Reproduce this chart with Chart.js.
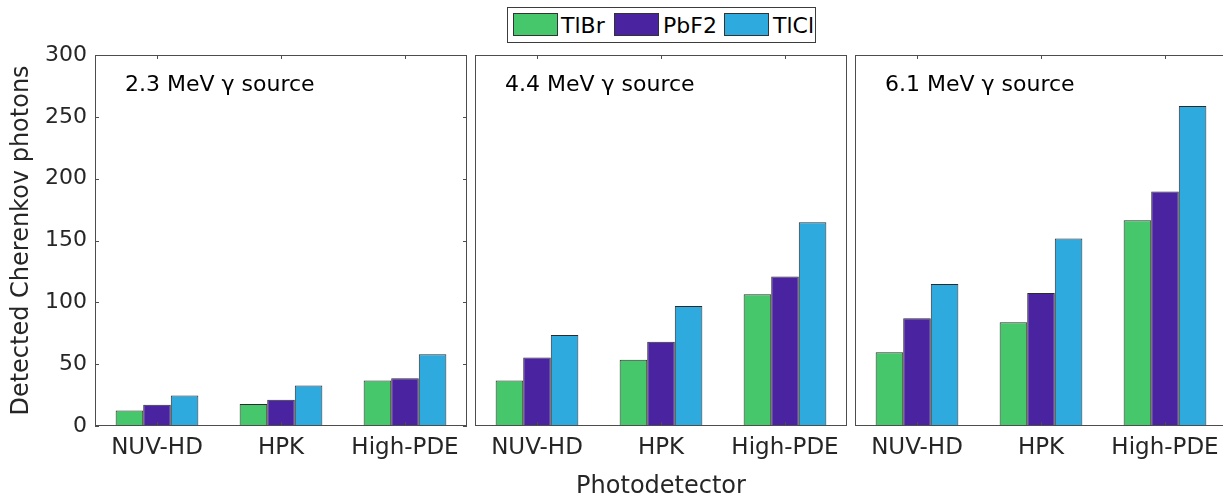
<!DOCTYPE html>
<html>
<head>
<meta charset="utf-8">
<script src="https://cdn.jsdelivr.net/npm/chart.js@4.4.0/dist/chart.umd.min.js"></script>
<style>
  html, body { margin: 0; padding: 0; background: #fff; overflow: hidden; }
  body { width: 1223px; height: 499px; position: relative; font-family: "DejaVu Sans", sans-serif; }
  .panel { position: absolute; top: 0; height: 499px; }
  #legend { position: absolute; left: 507px; top: 7px; width: 307px; height: 34px; border: 1px solid #3c3c3c; background: #fff; }
  .sw { position: absolute; top: 5px; width: 43px; height: 21px; border: 1px solid #333; }
  .lb { position: absolute; top: 0; line-height: 35px; font-size: 22px; color: #000; }
</style>
</head>
<body>
<div class="panel" style="left:0;width:470px"><canvas id="c1"></canvas></div>
<div class="panel" style="left:470px;width:380px"><canvas id="c2"></canvas></div>
<div class="panel" style="left:850px;width:380px"><canvas id="c3"></canvas></div>
<div id="legend">
  <div class="sw" style="left:5px;background:#47c76b"></div><div class="lb" style="left:53px">TlBr</div>
  <div class="sw" style="left:106px;background:#4a23a1"></div><div class="lb" style="left:155px">PbF2</div>
  <div class="sw" style="left:216px;background:#2eaadf"></div><div class="lb" style="left:265px">TlCl</div>
</div>
<script>
// photodetectors on the x axis, one panel per gamma source
const detectors = ['NUV-HD', 'HPK', 'High-PDE'];
const sources = ['2.3 MeV γ source', '4.4 MeV γ source', '6.1 MeV γ source'];
const crystals = ['TlBr', 'PbF2', 'TlCl'];
const yTicks = [0, 50, 100, 150, 200, 250, 300];

// detected Cherenkov photons, [source][detector]
const tlbr = [[12.5, 17.8, 36.8], [36.8, 53.5, 106.5], [59.6, 83.9, 166.4]];
const pbf2 = [[17.1, 21.3, 38.6], [55.3, 68.2, 120.8], [87.1, 107.6, 189.6]];
const tlcl = [[24.6, 32.7, 58.1], [73.6, 97.0, 164.8], [114.9, 151.6, 258.8]];

const colors = ['#47c76b', '#4a23a1', '#2eaadf'];
const tickFont = { family: 'DejaVu Sans', size: 22 };
const catFont = { family: 'DejaVu Sans', size: 23 };
const titleFont = { family: 'DejaVu Sans', size: 24 };
const axisGray = '#4d4d4d';

// box around the axes plus MATLAB style inward ticks and the source label
const framePlugin = {
  id: 'frame',
  afterDatasetsDraw(chart, args, opts) {
    const { ctx, chartArea: a, scales } = chart;
    ctx.save();
    ctx.strokeStyle = axisGray;
    ctx.lineWidth = 1;
    ctx.strokeRect(Math.round(a.left) + 0.5, Math.round(a.top) + 0.5,
      Math.round(a.right - a.left) - 1, Math.round(a.bottom - a.top) - 1);
    ctx.beginPath();
    detectors.forEach((d, i) => {
      const x = Math.round(scales.x.getPixelForValue(i)) + 0.5;
      ctx.moveTo(x, a.top); ctx.lineTo(x, a.top + 4);
      ctx.moveTo(x, a.bottom); ctx.lineTo(x, a.bottom - 4);
    });
    if (opts.yTicks) {
      yTicks.forEach(v => {
        const y = Math.round(scales.y.getPixelForValue(v)) + 0.5;
        ctx.moveTo(a.left, y); ctx.lineTo(a.left + 4, y);
        ctx.moveTo(a.right, y); ctx.lineTo(a.right - 4, y);
      });
    }
    ctx.stroke();
    ctx.fillStyle = '#000';
    ctx.font = '22px "DejaVu Sans"';
    ctx.textBaseline = 'middle';
    ctx.fillText(opts.label, a.left + 30, a.top + 30);
    ctx.restore();
  }
};

function makePanel(id, k, padLeft, showY, showTitle) {
  new Chart(document.getElementById(id), {
    type: 'bar',
    data: {
      labels: detectors,
      datasets: [tlbr, pbf2, tlcl].map((vals, j) => ({
        label: crystals[j],
        data: vals[k],
        backgroundColor: colors[j],
        borderColor: '#2b2b2b',
        borderWidth: 1,
        categoryPercentage: 0.667,
        barPercentage: 1.0
      }))
    },
    options: {
      responsive: true,
      maintainAspectRatio: false,
      animation: false,
      layout: { padding: { left: padLeft, right: 3, top: 55, bottom: 0 } },
      plugins: {
        legend: { display: false },
        tooltip: { enabled: false },
        frame: { label: sources[k], yTicks: showY }
      },
      scales: {
        x: {
          grid: { display: false, drawTicks: false },
          border: { display: false },
          ticks: { font: catFont, color: '#262626', padding: 8, maxRotation: 0, autoSkip: false },
          title: {
            display: showTitle, text: 'Photodetector', font: titleFont, color: '#262626',
            padding: { top: 0, bottom: -2 }
          },
          afterFit: s => { s.height = 73; }
        },
        y: {
          display: showY,
          min: 0, max: 300,
          grid: { display: false, drawTicks: false },
          border: { display: false },
          ticks: { stepSize: 50, font: tickFont, color: '#262626', padding: 8 },
          title: {
            display: true, text: 'Detected Cherenkov photons', font: titleFont, color: '#262626',
            padding: { top: 7, bottom: 0 }
          },
          afterFit: s => { s.width = showY ? 95 : 0; }
        }
      }
    },
    plugins: [framePlugin]
  });
}

makePanel('c1', 0, 0, true, false);
makePanel('c2', 1, 5, false, true);
makePanel('c3', 2, 5, false, false);
</script>
</body>
</html>
